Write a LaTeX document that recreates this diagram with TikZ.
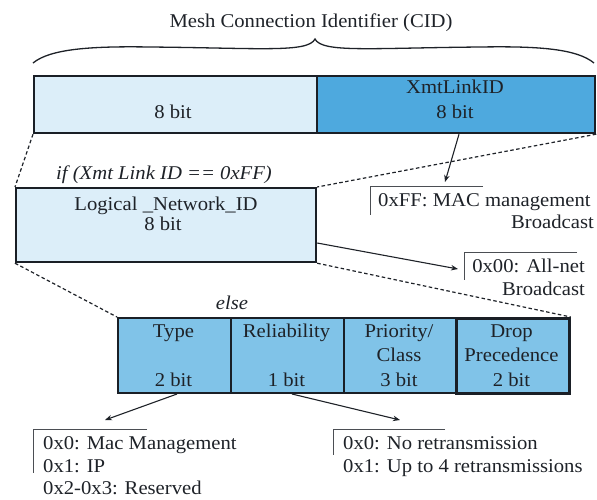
\documentclass[tikz,border=0pt]{standalone}
\usepackage{fontspec}
\setmainfont{Liberation Serif}[FakeStretch=1.06]
\usetikzlibrary{arrows.meta}

\definecolor{paleblue}{HTML}{DCEEF9}
\definecolor{linkblue}{HTML}{4EA9DE}
\definecolor{fieldblue}{HTML}{80C3E8}
\definecolor{ink}{HTML}{1E2228}
\definecolor{edge}{HTML}{1A1F26}

\tikzset{
  cell/.style={draw=edge, line width=2.2pt, anchor=north west, inner sep=0pt},
  lbl/.style={anchor=base, inner sep=0pt, text=ink},
  lblW/.style={anchor=base west, inner sep=0pt, text=ink},
  lblE/.style={anchor=base east, inner sep=0pt, text=ink},
  zoomline/.style={draw=ink, line width=1.2pt, dash pattern=on 3.5pt off 2.5pt},
  pointer/.style={draw=ink, line width=1.1pt, -{Stealth[length=7pt,width=5.5pt]}},
  bracket/.style={draw=ink!80, line width=1pt},
}

\begin{document}
\begin{tikzpicture}[x=1pt, y=-1pt, font=\fontsize{19.5}{22}\selectfont]
\useasboundingbox (0,0) rectangle (597,499);

% title and brace over the whole identifier
\node[lbl] (title) at (311,27) {Mesh Connection Identifier (CID)};
\coordinate (braceL) at (33,63);
\coordinate (braceR) at (594,63);
\coordinate (braceTip) at (315,39);
\draw[ink, line width=1.3pt]
  (braceL) .. controls (50,49) and (90,46) .. (150,47)
  .. controls (260,48) and (308,53) .. (braceTip)
  .. controls (322,53) and (370,48) .. (480,47)
  .. controls (540,46) and (577,49) .. (braceR);

% 16-bit CID
\node[cell, fill=paleblue, minimum width=283pt, minimum height=57pt] (cidLow) at (33,75) {};
\node[cell, fill=linkblue, minimum width=278pt, minimum height=57pt] (cidLink) at (316,75) {};
\node[lbl] (cidLowBits) at (173,118) {8 bit};
\node[lbl] (cidLinkName) at (455,93) {XmtLinkID};
\node[lbl] (cidLinkBits) at (455,118) {8 bit};

% logical network id branch
\node[lbl, font=\fontsize{19.5}{22}\selectfont\itshape] (ifcase) at (164,179) {if (Xmt Link ID == 0xFF)};
\node[cell, fill=paleblue, minimum width=300pt, minimum height=74pt] (lnid) at (15,187) {};
\node[lbl] (lnidName) at (166,210) {Logical \_Network\_ID};
\node[lbl] (lnidBits) at (163,230) {8 bit};

% else branch: four fields
\node[lbl, font=\fontsize{19.5}{22}\selectfont\itshape] (elsecase) at (232,309) {else};
\node[cell, fill=fieldblue, line width=2pt, minimum width=113pt, minimum height=75pt] (ftype) at (117,317) {};
\node[cell, fill=fieldblue, line width=2pt, minimum width=113pt, minimum height=75pt] (frel) at (230,317) {};
\node[cell, fill=fieldblue, line width=2pt, minimum width=112pt, minimum height=75pt] (fprio) at (343,317) {};
\node[cell, fill=fieldblue, line width=2.8pt, minimum width=113pt, minimum height=75pt] (fdrop) at (455,317) {};

\node[lbl] (typeName) at (173.5,337) {Type};
\node[lbl] (typeBits) at (173.5,386) {2 bit};
\node[lbl] (relName) at (286.5,337) {Reliability};
\node[lbl] (relBits) at (286.5,386) {1 bit};
\node[lbl] (prioName) at (399,337) {Priority/};
\node[lbl] (prioClass) at (399,361) {Class};
\node[lbl] (prioBits) at (399,386) {3 bit};
\node[lbl] (dropName) at (511.5,337) {Drop};
\node[lbl] (dropPrec) at (511.5,361) {Precedence};
\node[lbl] (dropBits) at (511.5,386) {2 bit};

% dashed expansion lines
\draw[zoomline] (cidLow.south west) -- (lnid.north west);
\draw[zoomline] (cidLink.south east) -- (lnid.north east);
\draw[zoomline] (lnid.south west) -- (ftype.north west);
\draw[zoomline] (lnid.south east) -- (fdrop.north east);

% value notes
\coordinate (ffCorner) at (370,186);
\draw[bracket] (483,186) -- (ffCorner) -- (370,215);
\node[lblW] (ffLine1) at (378,206) {0xFF: MAC management};
\node[lblE] (ffLine2) at (594,228) {Broadcast};

\coordinate (nullCorner) at (464,252);
\draw[bracket] (577,252) -- (nullCorner) -- (464,280);
\node[lblE] (nullLine1) at (585,272) {0x00: All-net};
\node[lblE] (nullLine2) at (585,295) {Broadcast};

\coordinate (typeCorner) at (33,429);
\draw[bracket] (147,429) -- (typeCorner) -- (33,473);
\node[lblW] (typeV0) at (43,449) {0x0: Mac Management};
\node[lblW] (typeV1) at (43,472) {0x1: IP};
\node[lblW] (typeV2) at (43,494) {0x2-0x3: Reserved};

\coordinate (relCorner) at (333,429);
\draw[bracket] (445,429) -- (relCorner) -- (333,455);
\node[lblW] (relV0) at (343,449) {0x0: No retransmission};
\node[lblW] (relV1) at (343,472) {0x1: Up to 4 retransmissions};

% pointers from fields to their values
\coordinate (ffTip) at (445,182);
\coordinate (nullTip) at (458,269);
\coordinate (typeTip) at (105,420);
\coordinate (relTip) at (400,420);
\draw[pointer] (cidLink.south west -| 459,0) -- (ffTip);
\draw[pointer] (lnid.east |- 0,243) -- (nullTip);
\draw[pointer] (ftype.south -| 177,0) -- (typeTip);
\draw[pointer] (frel.south -| 292,0) -- (relTip);
\end{tikzpicture}
\end{document}
